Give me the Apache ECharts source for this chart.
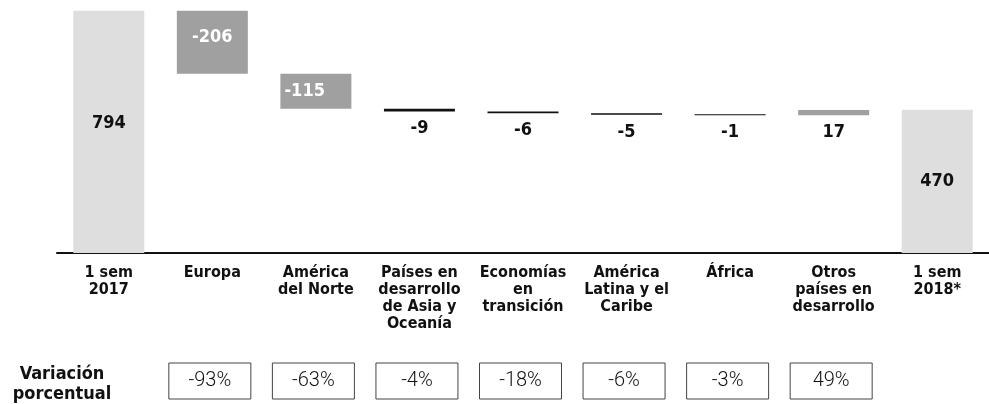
<!DOCTYPE html>
<html>
<head>
<meta charset="utf-8">
<script src="https://cdn.jsdelivr.net/npm/echarts@6/dist/echarts.min.js"></script>
<style>
html,body{margin:0;padding:0;background:#fff;}
#c{width:989px;height:404px;}
</style>
</head>
<body>
<div id="c"></div>
<script>
// ---- data ----
const categories = ['1 sem\n2017', 'Europa', 'América\ndel Norte', 'Países en\ndesarrollo\nde Asia y\nOceanía', 'Economías\nen\ntransición', 'América\nLatina y el\nCaribe', 'África', 'Otros\npaíses en\ndesarrollo', '1 sem\n2018*'];
const startValue = 794;
const changes = [-206, -115, -9, -6, -5, -1, 17];
const endValue = 470;
const pctLabels = ['', '-93%', '-63%', '-4%', '-18%', '-6%', '-3%', '49%', ''];

// ---- styles ----
const barColors = ['#dedede', '#a0a0a0', '#a0a0a0', '#111111', '#111111', '#111111', '#111111', '#a0a0a0', '#dedede'];
const FONT_B = '"DejaVu Sans Condensed", "DejaVu Sans", sans-serif';

// ---- waterfall construction ----
const shown = [startValue].concat(changes).concat([endValue]);
const bases = [0];
const heights = [startValue];
let run = startValue;
changes.forEach(d => {
  if (d < 0) { bases.push(run + d); heights.push(-d); }
  else { bases.push(run); heights.push(d); }
  run += d;
});
bases.push(0); heights.push(endValue);

function labelFor(i) {
  const base = { show: true, fontFamily: FONT_B, fontWeight: 'bold', fontSize: 18, lineHeight: 20, color: '#111' };
  if (i === 0) return Object.assign(base, { position: 'insideTop', distance: 102 });
  if (i === 1) return Object.assign(base, { position: 'insideTop', distance: 16, color: '#fff' });
  if (i === 2) return Object.assign(base, { position: 'insideLeft', distance: 4, color: '#fff' });
  if (i === shown.length - 1) return Object.assign(base, { position: 'inside' });
  return Object.assign(base, { position: 'bottom', distance: 7 });
}

const visible = heights.map((h, i) => ({
  value: h,
  itemStyle: { color: barColors[i] },
  label: labelFor(i)
}));

const chart = echarts.init(document.getElementById('c'), null, { renderer: 'canvas' });
chart.setOption({
  animation: false,
  backgroundColor: '#ffffff',
  grid: { left: 57, right: -7, top: 9, bottom: 151, containLabel: false },
  xAxis: [
    {
      type: 'category',
      data: categories,
      position: 'bottom',
      axisLine: { show: true, lineStyle: { color: '#111', width: 2 } },
      axisTick: { show: false },
      axisLabel: {
        interval: 0, margin: 11, fontFamily: FONT_B, fontWeight: 'bold',
        fontSize: 16, lineHeight: 17, color: '#111', verticalAlign: 'top'
      }
    },
    {
      type: 'category',
      data: pctLabels,
      position: 'bottom',
      offset: 118,
      axisLine: { show: false },
      axisTick: { show: false },
      axisLabel: {
        interval: 0, margin: 0, padding: [0, 5, 0, 0],
        formatter: v => v ? '{b|' + v + '}' : '',
        rich: {
          b: {
            fontFamily: 'Roboto, sans-serif', fontWeight: 300, fontSize: 20, color: '#111',
            width: 82, height: 20, lineHeight: 20, align: 'center',
            padding: [8, 0, 8, 0], borderColor: '#444', borderWidth: 1
          }
        }
      }
    }
  ],
  yAxis: { type: 'value', min: 0, max: 800, show: false, splitLine: { show: false } },
  series: [
    {
      type: 'bar', stack: 'w', data: bases, barWidth: 71,
      itemStyle: { color: 'transparent' }, silent: true, label: { show: false }
    },
    {
      type: 'bar', stack: 'w', data: visible, barWidth: 71, barMinHeight: 1,
      label: {
        show: true,
        formatter: p => String(shown[p.dataIndex])
      }
    }
  ],
  graphic: [
    {
      type: 'text', x: 62, y: 364,
      style: {
        text: 'Variación\nporcentual', fill: '#111', align: 'center', verticalAlign: 'top',
        font: 'bold 18px "DejaVu Sans Condensed", "DejaVu Sans", sans-serif', lineHeight: 20
      }
    }
  ]
});
</script>
</body>
</html>
